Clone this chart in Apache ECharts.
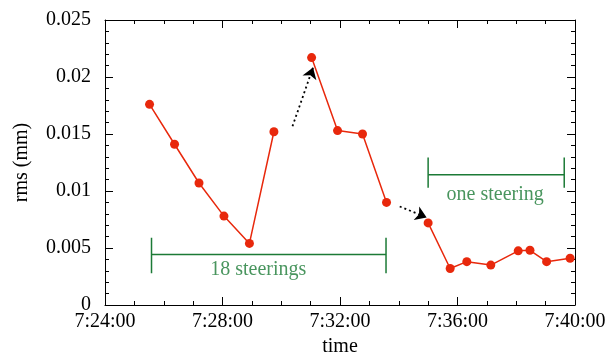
<!DOCTYPE html>
<html>
<head>
<meta charset="utf-8">
<script src="https://cdn.jsdelivr.net/npm/echarts@6/dist/echarts.min.js"></script>
<style>
  html, body { margin: 0; padding: 0; background: #fff; }
  #main { width: 609px; height: 352px; }
</style>
</head>
<body>
<div id="main"></div>
<script>
// measured points, the run is broken into three pieces (gaps are where the arrows are)
var times = ['7:25:31', '7:26:22', '7:27:12', '7:28:03', '7:28:55', '7:29:45', '7:31:02', '7:31:55', '7:32:46',
             '7:33:35', '7:35:00', '7:35:45', '7:36:19', '7:37:08', '7:38:04', '7:38:28', '7:39:02', '7:39:50'];
var rms = [0.0176, 0.0141, 0.0107, 0.0078, 0.0054, 0.0152, 0.0217, 0.0153, 0.0150,
           0.0090, 0.0072, 0.0032, 0.0038, 0.0035, 0.00475, 0.0048, 0.0038, 0.0041];
var breakAfter = [5, 9];

// green brackets
var bracketStart = ['7:25:35', '7:35:00'];
var bracketEnd = ['7:33:34', '7:39:38'];
var bracketY = [0.00442, 0.01143];
var bracketTop = [0.00589, 0.01293];
var bracketBottom = [0.00279, 0.01029];

var noteText = ['18 steerings', 'one steering'];
var noteTime = ['7:29:13', '7:37:17'];
var noteRms = [0.00308, 0.00967];

// dotted arrows
var arrowFrom = [['7:30:23', 0.01568], ['7:34:02', 0.00864]];
var arrowTo = [['7:31:05', 0.02084], ['7:34:57', 0.00768]];

var xTicks = ['7:24:00', '7:40:00'];

function toSec(s) {
    var p = s.split(':').map(Number);
    return p[0] * 3600 + p[1] * 60 + p[2];
}
function pad(n) { return n < 10 ? '0' + n : '' + n; }
function fmt(v) {
    var h = Math.floor(v / 3600), m = Math.floor((v % 3600) / 60), s = v % 60;
    return h + ':' + pad(m) + ':' + pad(s);
}

var red = '#e8280c';
var green = '#1c7a36';
var font = 'Liberation Serif';

var lineData = [];
times.forEach(function (t, i) {
    lineData.push([toSec(t), rms[i]]);
    if (breakAfter.indexOf(i) >= 0) lineData.push(['-', '-']);
});

var series = [];
series.push({
    type: 'line',
    data: lineData,
    connectNulls: false,
    symbol: 'circle',
    symbolSize: 9,
    itemStyle: { color: red },
    lineStyle: { color: red, width: 1.5 },
    z: 5
});

for (var i = 0; i < bracketStart.length; i++) {
    var s = toSec(bracketStart[i]), e = toSec(bracketEnd[i]);
    [[[s, bracketY[i]], [e, bracketY[i]]],
     [[s, bracketTop[i]], [s, bracketBottom[i]]],
     [[e, bracketTop[i]], [e, bracketBottom[i]]]].forEach(function (seg) {
        series.push({
            type: 'line', data: seg, showSymbol: false, silent: true,
            lineStyle: { color: green, width: 1.5 }
        });
    });
}

series.push({
    type: 'scatter',
    symbolSize: 0,
    data: noteText.map(function (n, i) { return { name: n, value: [toSec(noteTime[i]), noteRms[i]] }; }),
    label: {
        show: true, position: 'inside', formatter: '{b}',
        color: green, fontFamily: font, fontSize: 20
    }
});

series.push({
    type: 'lines',
    coordinateSystem: 'cartesian2d',
    symbol: ['none', 'arrow'],
    symbolSize: 11,
    lineStyle: { color: '#000', width: 1.8, type: [2, 3], opacity: 1 },
    data: arrowFrom.map(function (f, i) {
        return { coords: [[toSec(f[0]), f[1]], [toSec(arrowTo[i][0]), arrowTo[i][1]]] };
    })
});

var xBase = {
    type: 'value',
    min: toSec(xTicks[0]),
    max: toSec(xTicks[1]),
    interval: 240,
    splitLine: { show: false },
    axisLine: { onZero: false, lineStyle: { color: '#000', width: 1 } },
    axisTick: { inside: true, length: 8, lineStyle: { color: '#000' } },
    minorTick: { show: true, splitNumber: 4, length: 4, lineStyle: { color: '#000' } }
};
var yBase = {
    type: 'value',
    min: 0,
    max: 0.025,
    interval: 0.005,
    splitLine: { show: false },
    axisLine: { onZero: false, lineStyle: { color: '#000', width: 1 } },
    axisTick: { inside: true, length: 8, lineStyle: { color: '#000' } },
    minorTick: { show: true, splitNumber: 5, length: 4, lineStyle: { color: '#000' } }
};

var chart = echarts.init(document.getElementById('main'));
chart.setOption({
    animation: false,
    grid: { left: 105, right: 34, top: 20, bottom: 47, containLabel: false, outerBoundsMode: 'none' },
    xAxis: [
        Object.assign({}, xBase, {
            position: 'bottom',
            name: 'time', nameLocation: 'middle', nameGap: 23,
            nameTextStyle: { color: '#000', fontFamily: font, fontSize: 20 },
            axisLabel: { color: '#000', fontFamily: font, fontSize: 20, margin: 7, formatter: fmt }
        }),
        Object.assign({}, xBase, { position: 'top', axisLabel: { show: false } })
    ],
    yAxis: [
        Object.assign({}, yBase, {
            position: 'left',
            name: 'rms (mm)', nameLocation: 'middle', nameGap: 73,
            nameTextStyle: { color: '#000', fontFamily: font, fontSize: 20 },
            axisLabel: { color: '#000', fontFamily: font, fontSize: 20, margin: 14, padding: [0, 0, 8, 0] }
        }),
        Object.assign({}, yBase, { position: 'right', axisLabel: { show: false } })
    ],
    series: series
});
</script>
</body>
</html>
